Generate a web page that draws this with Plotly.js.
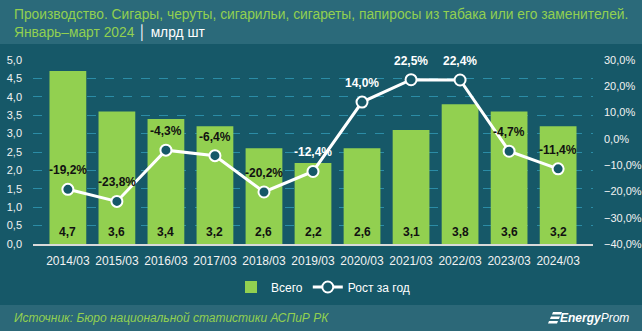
<!DOCTYPE html>
<html>
<head>
<meta charset="utf-8">
<script src="https://cdn.plot.ly/plotly-3.0.1.min.js"></script>
<style>
html,body{margin:0;padding:0;background:#165868;}
#chart{width:642px;height:331px;}
</style>
</head>
<body>
<div id="chart"></div>
<script>
const categories = ["2014/03","2015/03","2016/03","2017/03","2018/03","2019/03","2020/03","2021/03","2022/03","2023/03","2024/03"];
const totalValues = [4.7, 3.6, 3.4, 3.2, 2.6, 2.2, 2.6, 3.1, 3.8, 3.6, 3.2];
const growthValues = [-19.2, -23.8, -4.3, -6.4, -20.2, -12.4, 14.0, 22.5, 22.4, -4.7, -11.4];
const seriesNames = ["Всего", "Рост за год"];
const titleLine1 = "Производство. Сигары, черуты, сигарильи, сигареты, папиросы из табака или его заменителей.";
const titleLine2 = "Январь–март 2024";
const unitText = "млрд шт";
const sourceText = "Источник: Бюро национальной статистики АСПиР РК";

const BG = '#165868';
const GREEN = '#92d050';
const FONT = 'Liberation Sans, Arial, sans-serif';
const fmt = v => v.toFixed(1).replace('.', ',');

const Y1 = [0, 5], Y2 = [-40, 30];
const plotH = 184;
const px = p => (p - 33) / 560;
const py = p => (244 - p) / plotH;

const annotations = [];
// bar value labels
categories.forEach((c, i) => {
  annotations.push({
    x: c, y: 0, xref: 'x', yref: 'y', text: '<b>' + fmt(totalValues[i]) + '</b>',
    showarrow: false, yanchor: 'bottom', yshift: 3,
    font: {family: FONT, size: 12, color: '#111111'}
  });
});
// growth labels
categories.forEach((c, i) => {
  const g = growthValues[i];
  const shift = 19;
  const labelInY1 = (g - Y2[0]) / (Y2[1] - Y2[0]) * (Y1[1] - Y1[0]) + shift / plotH * (Y1[1] - Y1[0]);
  const onBar = labelInY1 < totalValues[i];
  annotations.push({
    x: c, y: g, xref: 'x', yref: 'y2', text: '<b>' + fmt(g) + '%</b>',
    showarrow: false, yanchor: 'middle', yshift: shift,
    font: {family: FONT, size: 12, color: onBar ? '#111111' : '#ffffff'}
  });
});
// title
annotations.push({
  xref: 'paper', yref: 'paper', x: px(12), y: py(15), xanchor: 'left', yanchor: 'middle',
  showarrow: false, text: titleLine1, font: {family: FONT, size: 13.8, color: GREEN}
});
annotations.push({
  xref: 'paper', yref: 'paper', x: px(12), y: py(33), xanchor: 'left', yanchor: 'middle',
  showarrow: false,
  text: titleLine2 + ' <span style="color:#ffffff">│ ' + unitText + '</span>',
  font: {family: FONT, size: 13.8, color: GREEN}
});
// source
annotations.push({
  xref: 'paper', yref: 'paper', x: px(12), y: py(318),
  xanchor: 'left', yanchor: 'middle', showarrow: false,
  text: '<i>' + sourceText + '</i>',
  font: {family: FONT, size: 12, color: GREEN}
});
// logo text
annotations.push({
  xref: 'paper', yref: 'paper', x: px(631), y: py(318),
  xanchor: 'right', yanchor: 'middle', showarrow: false,
  text: '<i><b>Energy</b>Prom</i>',
  font: {family: FONT, size: 12, color: '#ffffff'}
});

const shapes = [
  {type: 'rect', xref: 'paper', yref: 'paper', x0: px(0), x1: px(642), y0: py(44), y1: py(0),
   fillcolor: '#2b6a7a', line: {width: 0}, layer: 'below'},
  {type: 'rect', xref: 'paper', yref: 'paper', x0: px(0), x1: px(642), y0: py(331), y1: py(305),
   fillcolor: '#2c6878', line: {width: 0}, layer: 'below'},
  // logo mark
  {type: 'path', xref: 'paper', yref: 'paper',
   path: `M ${px(553)},${py(312)} L ${px(562)},${py(312)} L ${px(561)},${py(314.5)} L ${px(552)},${py(314.5)} Z`,
   fillcolor: '#ffffff', line: {width: 0}},
  {type: 'path', xref: 'paper', yref: 'paper',
   path: `M ${px(551)},${py(316.5)} L ${px(560)},${py(316.5)} L ${px(559)},${py(319)} L ${px(550)},${py(319)} Z`,
   fillcolor: '#ffffff', line: {width: 0}},
  {type: 'path', xref: 'paper', yref: 'paper',
   path: `M ${px(549)},${py(321)} L ${px(558)},${py(321)} L ${px(557)},${py(323.5)} L ${px(548)},${py(323.5)} Z`,
   fillcolor: '#ffffff', line: {width: 0}}
];

const traces = [
  {
    type: 'bar', name: seriesNames[0], x: categories, y: totalValues,
    marker: {color: GREEN}, yaxis: 'y', hoverinfo: 'skip'
  },
  {
    type: 'scatter', mode: 'lines+markers', name: seriesNames[1], x: categories, y: growthValues,
    yaxis: 'y2', line: {color: '#ffffff', width: 3},
    marker: {size: 11, color: BG, line: {color: '#ffffff', width: 2}}, hoverinfo: 'skip'
  }
];

const layout = {
  width: 642, height: 331,
  margin: {l: 33, r: 49, t: 60, b: 87},
  paper_bgcolor: BG, plot_bgcolor: 'rgba(0,0,0,0)',
  separators: ', ',
  bargap: 0.25,
  showlegend: true,
  font: {family: FONT, color: '#ffffff'},
  xaxis: {
    type: 'category', showgrid: false, showline: true, linecolor: '#d9d9d9', linewidth: 1.5,
    ticks: '', tickfont: {family: FONT, size: 12, color: '#f2f2f2'}, ticklabelstandoff: 5
  },
  yaxis: {
    range: Y1, dtick: 0.5, tickformat: '.1f', showgrid: true,
    gridcolor: '#2b8ca6', griddash: 'dash', gridwidth: 1, zeroline: false,
    tickfont: {family: FONT, size: 11, color: '#f2f2f2'}, ticks: '', ticklabelstandoff: 10
  },
  yaxis2: {
    range: Y2, dtick: 10, tickformat: '.1f', ticksuffix: '%', overlaying: 'y', side: 'right',
    showgrid: false, zeroline: false,
    tickfont: {family: FONT, size: 11, color: '#f2f2f2'}, ticks: '', ticklabelstandoff: 10
  },
  legend: {
    orientation: 'h', x: px(323), xanchor: 'center', y: py(287), yanchor: 'middle',
    font: {family: FONT, size: 12, color: '#ffffff'}, bgcolor: 'rgba(0,0,0,0)'
  },
  annotations: annotations,
  shapes: shapes
};

Plotly.newPlot('chart', traces, layout, {displayModeBar: false, staticPlot: true});
</script>
</body>
</html>
